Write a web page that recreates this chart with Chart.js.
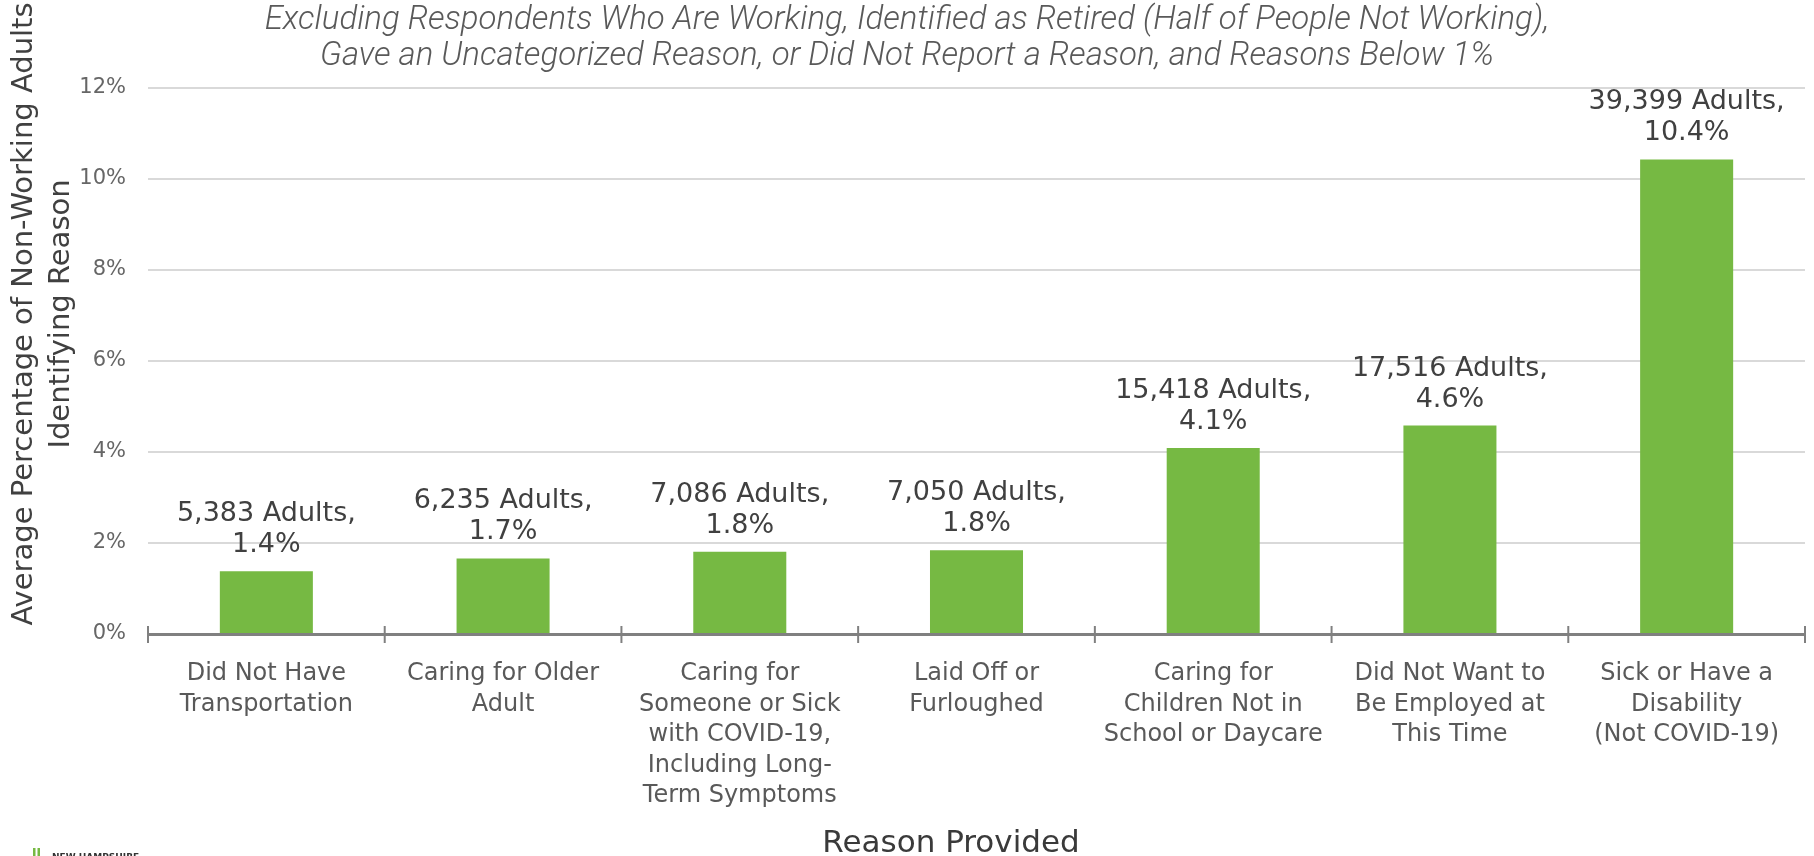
<!DOCTYPE html>
<html>
<head>
<meta charset="utf-8">
<script src="https://cdn.jsdelivr.net/npm/chart.js@4"></script>
<style>
    html, body { margin: 0; padding: 0; background: #ffffff; }
    #chart { display: block; }
</style>
</head>
<body>
<canvas id="chart" width="1814" height="856"></canvas>
<script>
// Reasons provided (x axis categories, already split into lines)
const categories = [
    ['Did Not Have', 'Transportation'],
    ['Caring for Older', 'Adult'],
    ['Caring for', 'Someone or Sick', 'with COVID-19,', 'Including Long-', 'Term Symptoms'],
    ['Laid Off or', 'Furloughed'],
    ['Caring for', 'Children Not in', 'School or Daycare'],
    ['Did Not Want to', 'Be Employed at', 'This Time'],
    ['Sick or Have a', 'Disability', '(Not COVID-19)']
];

// Average percentage of non-working adults identifying the reason
const percentValues = [1.38, 1.66, 1.81, 1.84, 4.09, 4.58, 10.43];

// Number of adults shown in the bar labels
const adultCounts = ['5,383', '6,235', '7,086', '7,050', '15,418', '17,516', '39,399'];

// Y axis ticks
const yMin = 0;
const yMax = 12;
const yStep = 2;

const titleLines = [
    'Excluding Respondents Who Are Working, Identified as Retired (Half of People Not Working),',
    'Gave an Uncategorized Reason, or Did Not Report a Reason, and Reasons Below 1%'
];
const yTitleLines = ['Average Percentage of Non-Working Adults', 'Identifying Reason'];
const xTitle = 'Reason Provided';

const FONT = '"DejaVu Sans", "Open Sans", sans-serif';

// Draws the title block, axis titles and the small logo
const decorPlugin = {
    id: 'decor',
    afterDraw(chart) {
        const ctx = chart.ctx;
        ctx.save();

        // italic subtitle on top
        ctx.fillStyle = '#595959';
        ctx.textAlign = 'center';
        ctx.textBaseline = 'alphabetic';
        ctx.font = 'italic 300 33px Roboto, "Liberation Sans", sans-serif';
        ctx.fillText(titleLines[0], 907, 29);
        ctx.fillText(titleLines[1], 907, 65);

        // y axis title, two rotated lines
        ctx.save();
        ctx.translate(0, 314);
        ctx.rotate(-Math.PI / 2);
        ctx.fillStyle = '#404040';
        ctx.textBaseline = 'middle';
        ctx.font = '29px ' + FONT;
        ctx.fillText(yTitleLines[0], 0, 24);
        ctx.fillText(yTitleLines[1], 0, 61);
        ctx.restore();

        // x axis title
        ctx.fillStyle = '#3a3a3a';
        ctx.textBaseline = 'alphabetic';
        ctx.font = '31px ' + FONT;
        ctx.fillText(xTitle, 951, 852);

        // logo stub in the corner
        ctx.fillStyle = '#76B943';
        ctx.fillRect(33, 848, 2.5, 8);
        ctx.fillRect(37.5, 848, 2.5, 8);
        ctx.fillStyle = '#333333';
        ctx.textAlign = 'left';
        ctx.font = 'bold 9px ' + FONT;
        ctx.fillText('NEW HAMPSHIRE', 52, 860);

        ctx.restore();
    }
};

// Tick marks across the x axis at the category boundaries
const axisTicksPlugin = {
    id: 'axisTicks',
    afterDraw(chart) {
        const ctx = chart.ctx;
        const xs = chart.scales.x;
        const y0 = chart.scales.y.getPixelForValue(0);
        const half = (xs.getPixelForValue(1) - xs.getPixelForValue(0)) / 2;
        ctx.save();
        ctx.strokeStyle = '#808080';
        ctx.lineWidth = 2;
        for (let i = 0; i <= categories.length; i++) {
            const x = i < categories.length ? xs.getPixelForValue(i) - half : xs.getPixelForValue(i - 1) + half;
            ctx.beginPath();
            ctx.moveTo(x, y0 - 8);
            ctx.lineTo(x, y0 + 9);
            ctx.stroke();
        }
        ctx.restore();
    }
};

// Two-line value labels above each bar
const barLabelPlugin = {
    id: 'barLabels',
    afterDatasetsDraw(chart) {
        const ctx = chart.ctx;
        const bars = chart.getDatasetMeta(0).data;
        ctx.save();
        ctx.fillStyle = '#404040';
        ctx.textAlign = 'center';
        ctx.textBaseline = 'alphabetic';
        ctx.font = '27px ' + FONT;
        bars.forEach((bar, i) => {
            ctx.fillText(percentValues[i].toFixed(1) + '%', bar.x, bar.y - 19);
            ctx.fillText(adultCounts[i] + ' Adults,', bar.x, bar.y - 50);
        });
        ctx.restore();
    }
};

const ctx = document.getElementById('chart').getContext('2d');
new Chart(ctx, {
    type: 'bar',
    data: {
        labels: categories,
        datasets: [{
            data: percentValues,
            backgroundColor: '#76B943',
            barPercentage: 0.393,
            categoryPercentage: 1.0
        }]
    },
    options: {
        responsive: false,
        animation: false,
        layout: {
            padding: { top: 88, right: 9, left: 0, bottom: 0 }
        },
        plugins: {
            legend: { display: false },
            tooltip: { enabled: false }
        },
        scales: {
            x: {
                grid: { display: false },
                border: { display: true, color: '#808080', width: 3 },
                ticks: {
                    color: '#595959',
                    font: { family: FONT, size: 24, lineHeight: 1.27 },
                    padding: 17,
                    maxRotation: 0,
                    autoSkip: false
                },
                afterFit(scale) { scale.height = 222; }
            },
            y: {
                min: yMin,
                max: yMax,
                grid: { color: '#d9d9d9', lineWidth: 2, drawTicks: false },
                border: { display: false },
                ticks: {
                    stepSize: yStep,
                    color: '#666666',
                    font: { family: FONT, size: 21 },
                    padding: 22,
                    callback: (v) => v + '%'
                },
                afterFit(scale) { scale.width = 148; }
            }
        }
    },
    plugins: [barLabelPlugin, axisTicksPlugin, decorPlugin]
});
</script>
</body>
</html>
